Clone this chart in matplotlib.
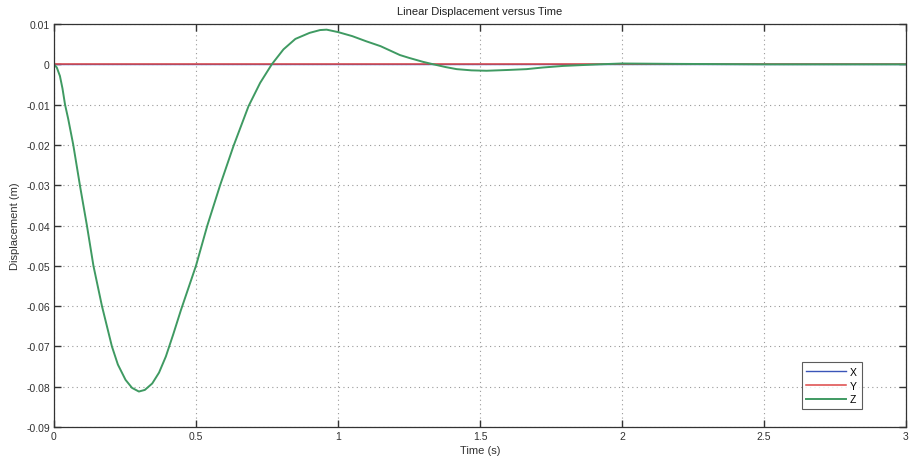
import matplotlib
matplotlib.use("Agg")
import matplotlib.pyplot as plt
from matplotlib.ticker import FuncFormatter

plt.rcParams['font.family'] = ['Liberation Sans', 'DejaVu Sans']

# time samples (s)
time = [0.0, 0.01, 0.021, 0.03, 0.039, 0.05, 0.068, 0.092, 0.116, 0.139,
        0.169, 0.204, 0.225, 0.252, 0.275, 0.299, 0.32, 0.346, 0.37, 0.394,
        0.42, 0.447, 0.5, 0.54, 0.585, 0.632, 0.685, 0.726, 0.767, 0.808,
        0.85, 0.9, 0.937, 0.96, 1.0, 1.05, 1.1, 1.15, 1.218, 1.25, 1.3,
        1.336, 1.38, 1.418, 1.47, 1.523, 1.6, 1.664, 1.72, 1.793, 1.92,
        2.0, 2.2, 2.5, 2.8, 3.0]

# displacement (m)
disp_x = [0.0] * len(time)
disp_y = [0.0] * len(time)
disp_z = [0.0, -0.0008, -0.0029, -0.0060, -0.0100, -0.0135, -0.0200, -0.0303,
          -0.0400, -0.0500, -0.0600, -0.0700, -0.0745, -0.0783, -0.0803,
          -0.0812, -0.0808, -0.0792, -0.0765, -0.0725, -0.0670, -0.0610,
          -0.0500, -0.0400, -0.0300, -0.0203, -0.0104, -0.0046, 0.0, 0.0037,
          0.0063, 0.0078, 0.0085, 0.0086, 0.0080, 0.0070, 0.0057, 0.0045,
          0.0023, 0.0016, 0.0006, 0.0, -0.0007, -0.0012, -0.0015, -0.0016,
          -0.0014, -0.0012, -0.0008, -0.0004, 0.0, 0.0002, 0.0001, 0.0, 0.0, 0.0]

fig = plt.figure(figsize=(9.1, 4.64), dpi=100)
ax = fig.add_axes([0.0593, 0.0776, 0.9363, 0.8685])

ax.plot(time, disp_x, color='#3a55b8', lw=1.0, label='X')
ax.plot(time, disp_y, color='#dd4646', lw=1.1, label='Y')
ax.plot(time, disp_z, color='#3f9a62', lw=1.4, label='Z')

ax.set_xlim(0, 3)
ax.set_ylim(-0.09, 0.01)
ax.set_xticks([0, 0.5, 1, 1.5, 2, 2.5, 3])
ax.set_yticks([0.01, 0, -0.01, -0.02, -0.03, -0.04, -0.05, -0.06, -0.07, -0.08, -0.09])
fmt = FuncFormatter(lambda v, p: f'{v:g}' if abs(v) > 1e-9 else '0')
ax.xaxis.set_major_formatter(fmt)
ax.yaxis.set_major_formatter(fmt)

ax.tick_params(direction='in', length=5, width=1, top=True, right=True,
               labelsize=7.5, colors='#333333', pad=3)
ax.grid(True, linestyle=(0, (1, 3)), color='#999999', lw=0.8)
for s in ax.spines.values():
    s.set_color('#333333')
    s.set_linewidth(0.9)

ax.set_title('Linear Displacement versus Time', fontsize=8, color='#222222', pad=7)
ax.set_xlabel('Time (s)', fontsize=8, color='#333333', labelpad=3)
ax.set_ylabel('Displacement (m)', fontsize=8, color='#333333', labelpad=4)

leg = ax.legend(loc='lower right', bbox_to_anchor=(0.948, 0.045), fontsize=7.5,
                frameon=True, fancybox=False, handlelength=3.8, handletextpad=0.4,
                borderpad=0.45, labelspacing=0.35, borderaxespad=0,
                edgecolor='#333333')
leg.get_frame().set_linewidth(0.8)

plt.savefig('out.png', dpi=100)
